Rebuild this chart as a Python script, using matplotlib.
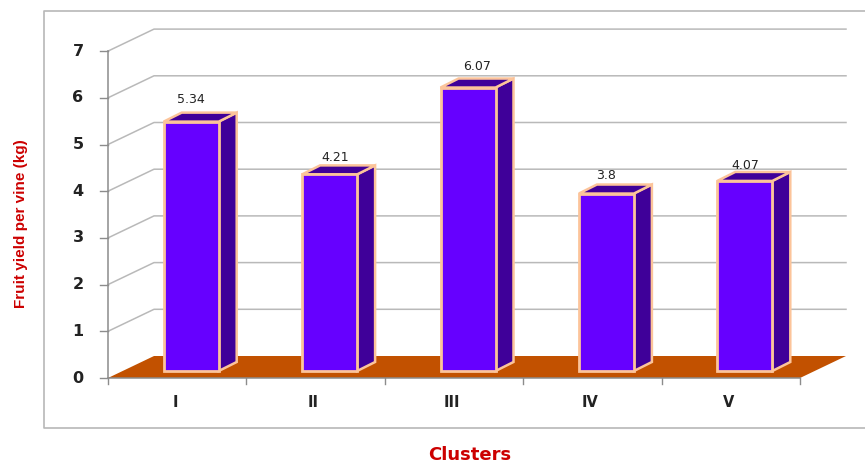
import matplotlib
matplotlib.use('Agg')
import matplotlib.pyplot as plt
from matplotlib.patches import Polygon, Rectangle

clusters = ['I', 'II', 'III', 'IV', 'V']
yield_kg = [5.34, 4.21, 6.07, 3.8, 4.07]
y_ticks = [0, 1, 2, 3, 4, 5, 6, 7]
xlabel = 'Clusters'
ylabel = 'Fruit yield per vine (kg)'

W, H = 865, 464
# one category is 138.4 px wide, one kg is 46.7 px tall
px_x = 138.4
px_y = 46.7
x0, y0 = 108, 379   # origin of the front axes in pixels

fig = plt.figure(figsize=(W / 100, H / 100), dpi=100)
ax = fig.add_axes([0, 0, 1, 1])
ax.set_xlim(-x0 / px_x, (W - x0) / px_x)
ax.set_ylim((y0 - H) / px_y, y0 / px_y)
ax.axis('off')

n = len(clusters)
wall_dx = 46 / px_x
wall_dy = 22 / px_y
grid_col = '#b9b9b9'
tick_col = '#8c8c8c'

# outer frame, runs off the right edge
ax.plot([ax.get_xlim()[1], -64 / px_x, -64 / px_x, ax.get_xlim()[1]],
        [(y0 - 12) / px_y, (y0 - 12) / px_y, (y0 - 429) / px_y, (y0 - 429) / px_y],
        color='#b8b8b8', lw=1.2, zorder=1)

# floor
ax.add_patch(Polygon([(0, 0), (wall_dx, wall_dy), (n + wall_dx, wall_dy), (n, 0)],
                     fc='#c25100', ec='none', zorder=2))

# grid lines on the side and back wall
for t in y_ticks[1:]:
    ax.plot([0, wall_dx, n + wall_dx], [t, t + wall_dy, t + wall_dy],
            color=grid_col, lw=1.1, zorder=1.5)
for t in y_ticks:
    ax.plot([-8 / px_x, 0], [t, t], color=tick_col, lw=1.0, zorder=3)
    ax.text(-30 / px_x, t + 0.02, str(t), ha='center', va='center',
            fontsize=11.5, fontweight='bold', color='#222222', family='DejaVu Sans')

# axis lines
ax.plot([0, 0], [0, y_ticks[-1]], color=tick_col, lw=1.1, zorder=3)
ax.plot([0, n], [0, 0], color=tick_col, lw=1.1, zorder=3)
for i in range(n + 1):
    ax.plot([i, i], [0, -6 / px_y], color=tick_col, lw=1.0, zorder=3)

# bars
bar_w = 55 / px_x
bar_dx = 18 / px_x
bar_dy = 9 / px_y
base_x = 14 / px_x
base_y = 7 / px_y
edge = '#fcc49a'
label_shift = [0, 6, 9, 0, 1]
label_up = [23, 18, 22, 19, 16]

for i, v in enumerate(yield_kg):
    left = i + 0.5 - bar_w / 2 + base_x
    right = left + bar_w
    top = base_y + v
    ax.add_patch(Polygon([(right, base_y), (right + bar_dx, base_y + bar_dy),
                          (right + bar_dx, top + bar_dy), (right, top)],
                         fc='#3f0099', ec=edge, lw=1.8, zorder=4))
    ax.add_patch(Polygon([(left, top), (left + bar_dx, top + bar_dy),
                          (right + bar_dx, top + bar_dy), (right, top)],
                         fc='#3f0099', ec=edge, lw=1.8, zorder=4))
    ax.add_patch(Rectangle((left, base_y), bar_w, v, fc='#6600ff', ec=edge,
                           lw=2.0, zorder=5))
    ax.text((left + right) / 2 + label_shift[i] / px_x, top + label_up[i] / px_y, str(v),
            ha='center', va='center', fontsize=9, color='#222222', zorder=6)
    ax.text(i + 0.5 - 2 / px_x, -24 / px_y, clusters[i], ha='center', va='center',
            fontsize=10.5, fontweight='bold', color='#222222')

ax.text(470 / px_x - x0 / px_x, (y0 - 455) / px_y, xlabel, ha='center', va='center',
        fontsize=13, fontweight='bold', color='#cc0000', family='DejaVu Sans')
ax.text(-87 / px_x, (y0 - 224) / px_y, ylabel, ha='center', va='center', rotation=90,
        fontsize=11, fontweight='bold', color='#cc0000',
        family=['Liberation Sans Narrow', 'Liberation Sans'])

fig.savefig('out.png', dpi=100)
